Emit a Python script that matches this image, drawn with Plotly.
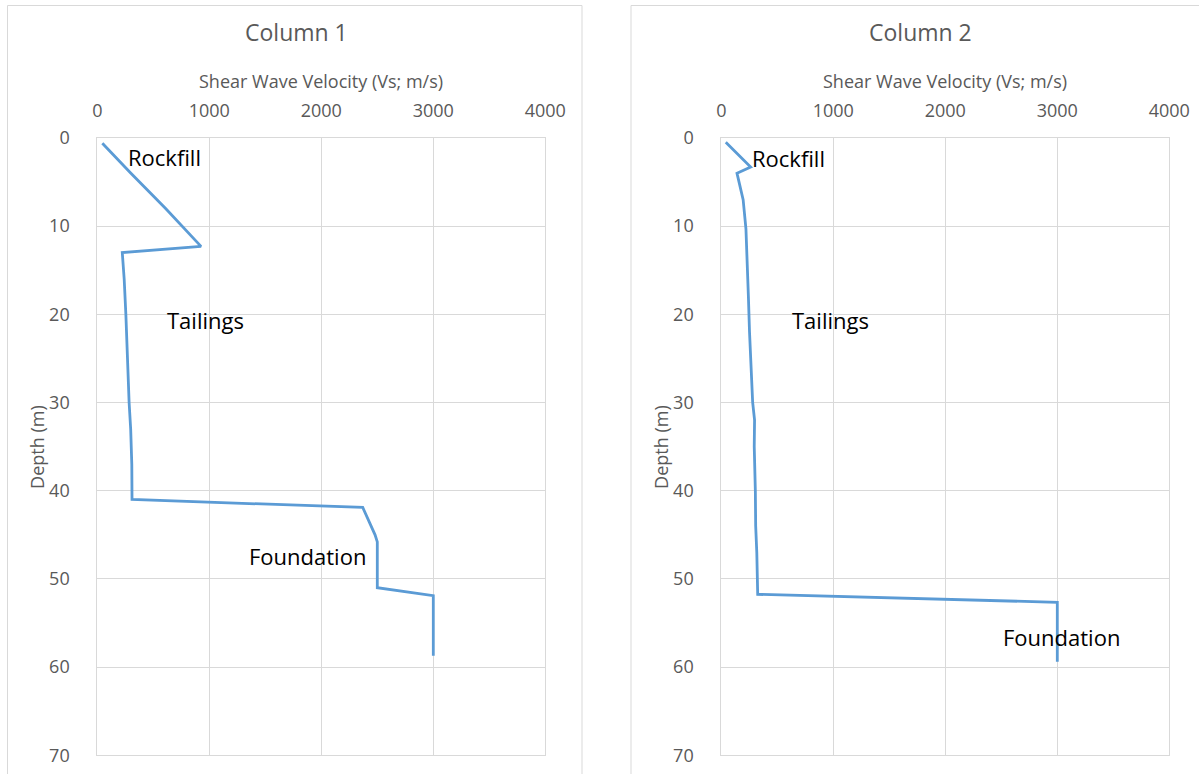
import plotly.graph_objects as go

# ---- data ----
col1_depth = [0.6, 4.0, 8.0, 12.3, 13.0, 16.0, 20.0, 24.0, 27.3, 30.0, 33.0, 37.0, 41.0,
              41.9, 45.0, 45.8, 51.0, 51.9, 58.7]
col1_vs = [45, 300, 610, 926, 223, 240, 255, 265, 277, 284, 298, 308, 310,
           2370, 2480, 2500, 2500, 3000, 3000]

col2_depth = [0.5, 3.3, 4.0, 7.0, 10.3, 13.7, 18.0, 22.0, 27.3, 30.0, 32.0, 35.0, 40.0,
              44.0, 47.0, 51.75, 52.65, 59.4]
col2_vs = [40, 262, 140, 195, 220, 232, 242, 252, 270, 280, 297, 294, 304,
           307, 317, 325, 3000, 3000]

panel_titles = ["Column 1", "Column 2"]
x_title = "Shear Wave Velocity (Vs; m/s)"
y_title = "Depth (m)"
x_ticks = [0, 1000, 2000, 3000, 4000]
y_ticks = [0, 10, 20, 30, 40, 50, 60, 70]
layer_labels = ["Rockfill", "Tailings", "Foundation"]
col1_label_vs = [604, 970, 1880]
col1_label_depth = [2.2, 20.6, 47.4]
col2_label_vs = [604, 978, 3040]
col2_label_depth = [2.3, 20.6, 56.6]

# ---- layout geometry (pixels) ----
W, H = 1199, 774
FONT = "Open Sans"
GRID = "#d9d9d9"
GRAY = "#595959"
LINE = "#5B9BD5"

def px(x):
    return x / W

def py(y):
    return 1 - y / H

plot_top, plot_bot = 137.9, 755.3
p1_left, p1_right = 97.3, 545.3
p2_left, p2_right = 721.3, 1169.3

fig = go.Figure()
fig.add_trace(go.Scatter(x=col1_vs, y=col1_depth, mode="lines",
                         line=dict(color=LINE, width=2.8), xaxis="x", yaxis="y",
                         showlegend=False, hoverinfo="skip"))
fig.add_trace(go.Scatter(x=col2_vs, y=col2_depth, mode="lines",
                         line=dict(color=LINE, width=2.8), xaxis="x2", yaxis="y2",
                         showlegend=False, hoverinfo="skip"))

def xaxis(left, right, anchor):
    return dict(domain=[px(left), px(right)], anchor=anchor, side="top",
                range=[0, 4000], tickvals=x_ticks, ticktext=[str(v) for v in x_ticks],
                showgrid=True, gridcolor=GRID, gridwidth=1, zeroline=False,
                showline=True, linecolor=GRID, linewidth=1, mirror=True,
                ticks="", ticklabelstandoff=13, automargin=False,
                tickfont=dict(family=FONT, size=18, color=GRAY), fixedrange=True)

def yaxis(anchor):
    return dict(domain=[py(plot_bot), py(plot_top)], anchor=anchor,
                range=[70, 0], tickvals=y_ticks, ticktext=[str(v) for v in y_ticks],
                showgrid=True, gridcolor=GRID, gridwidth=1, zeroline=False,
                showline=True, linecolor=GRID, linewidth=1, mirror=True,
                ticks="", ticklabelstandoff=23, automargin=False,
                tickfont=dict(family=FONT, size=18, color=GRAY), fixedrange=True)

annotations = []
# panel titles, axis titles
for i, (left, right) in enumerate([(p1_left, p1_right), (p2_left, p2_right)]):
    annotations.append(dict(text=panel_titles[i], xref="paper", yref="paper",
                            x=px([296, 920][i]), y=py(32), xanchor="center", yanchor="middle",
                            showarrow=False, font=dict(family=FONT, size=23, color=GRAY)))
    annotations.append(dict(text=x_title, xref="paper", yref="paper",
                            x=px((left + right) / 2), y=py(81), xanchor="center", yanchor="middle",
                            showarrow=False, font=dict(family=FONT, size=18, color=GRAY)))
    annotations.append(dict(text=y_title, xref="paper", yref="paper", textangle=-90,
                            x=px(left - 61), y=py((plot_top + plot_bot) / 2),
                            xanchor="center", yanchor="middle",
                            showarrow=False, font=dict(family=FONT, size=18, color=GRAY)))

for lbl, vs, d in zip(layer_labels, col1_label_vs, col1_label_depth):
    annotations.append(dict(text=lbl, xref="x", yref="y", x=vs, y=d, showarrow=False,
                            xanchor="center", yanchor="middle",
                            font=dict(family=FONT, size=22, color="#000000")))
for lbl, vs, d in zip(layer_labels, col2_label_vs, col2_label_depth):
    annotations.append(dict(text=lbl, xref="x2", yref="y2", x=vs, y=d, showarrow=False,
                            xanchor="center", yanchor="middle",
                            font=dict(family=FONT, size=22, color="#000000")))

shapes = [
    dict(type="rect", xref="paper", yref="paper", x0=px(7.5), x1=px(582), y0=py(800), y1=py(5.5),
         line=dict(color=GRID, width=1), fillcolor="rgba(0,0,0,0)", layer="below"),
    dict(type="rect", xref="paper", yref="paper", x0=px(631), x1=px(1215), y0=py(800), y1=py(5.5),
         line=dict(color=GRID, width=1), fillcolor="rgba(0,0,0,0)", layer="below"),
]

fig.update_layout(
    template="none",
    width=W, height=H, autosize=False,
    margin=dict(l=0, r=0, t=0, b=0, pad=0),
    paper_bgcolor="white", plot_bgcolor="white",
    xaxis=xaxis(p1_left, p1_right, "y"),
    yaxis=yaxis("x"),
    xaxis2=xaxis(p2_left, p2_right, "y2"),
    yaxis2=yaxis("x2"),
    annotations=annotations,
    shapes=shapes,
    showlegend=False,
)

fig.write_html("out.html", config={"displayModeBar": False},
               post_script="document.body.style.margin='0';document.body.style.overflow='hidden';")
